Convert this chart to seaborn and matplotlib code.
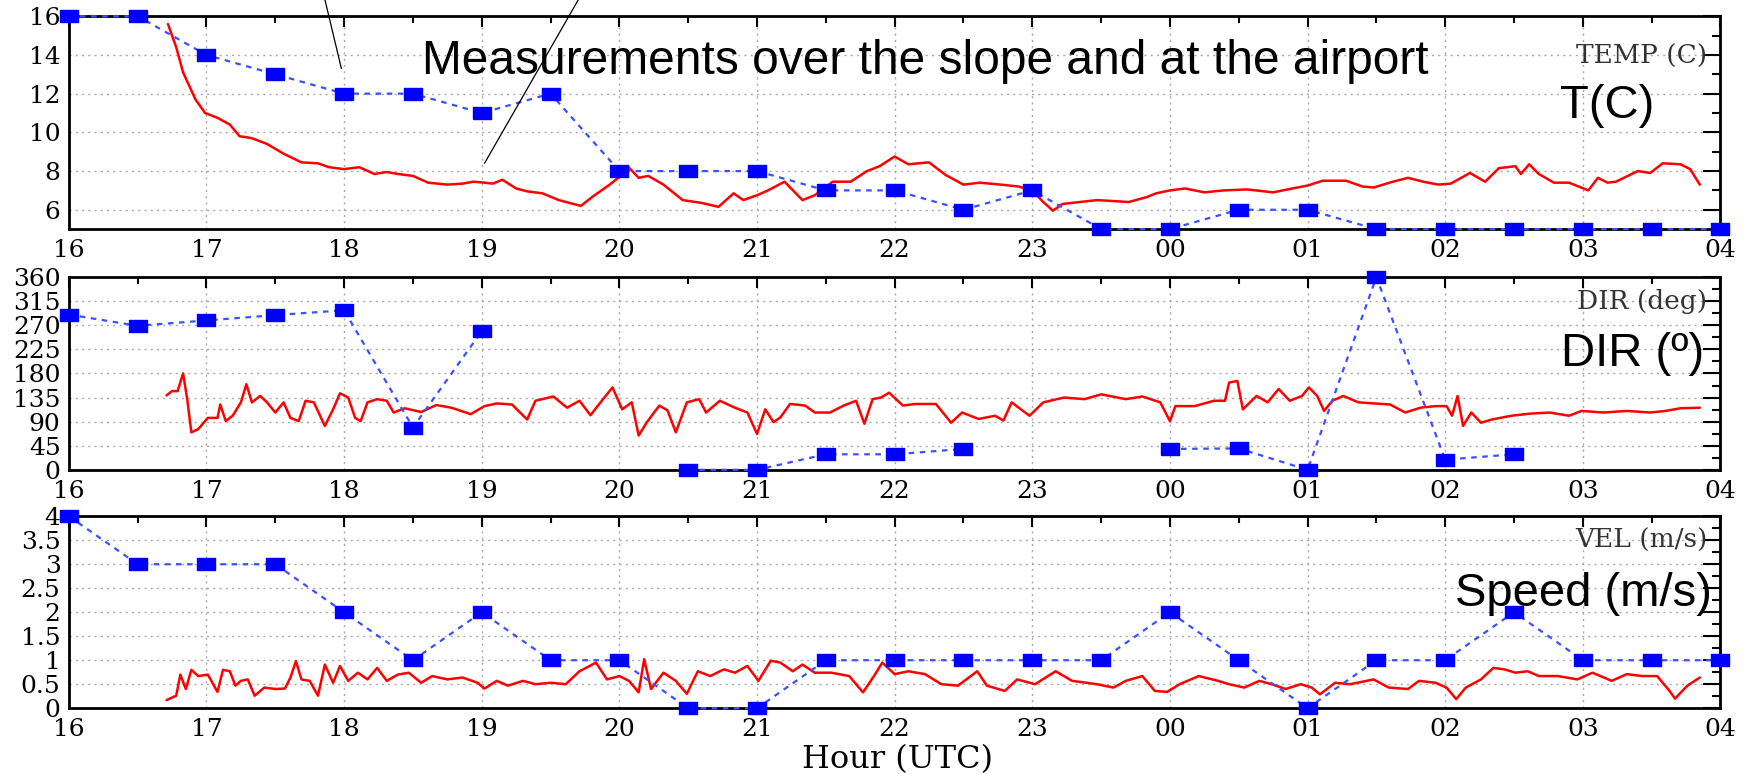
import numpy as np
import pandas as pd
import matplotlib
matplotlib.use('Agg')
import matplotlib.pyplot as plt
import seaborn as sns
from matplotlib.patches import ConnectionPatch
from matplotlib.ticker import MultipleLocator

# hours after 16 UTC run past midnight: 24 = 00, 28 = 04
hour_ticks = [16, 17, 18, 19, 20, 21, 22, 23, 24, 25, 26, 27, 28]
hour_labels = ['16', '17', '18', '19', '20', '21', '22', '23', '00', '01', '02', '03', '04']

# airport (half-hourly, blue squares)
airport_hours = [16, 16.5, 17, 17.5, 18, 18.5, 19, 19.5, 20, 20.5, 21, 21.5, 22, 22.5,
                 23, 23.5, 24, 24.5, 25, 25.5, 26, 26.5, 27, 27.5, 28]
airport_temp = [16, 16, 14, 13, 12, 12, 11, 12, 8, 8, 8, 7, 7, 6,
                7, 5, 5, 6, 6, 5, 5, 5, 5, 5, 5]
airport_dir = [290, 269, 279, 289, 298, 79, 259, np.nan, np.nan, 0, 0, 29, 29, 39,
               np.nan, np.nan, 39, 40, 0, 360, 19, 29, np.nan, np.nan, np.nan]
airport_vel = [4, 3, 3, 3, 2, 1, 2, 1, 1, 0, 0, 1, 1, 1,
               1, 1, 2, 1, 0, 1, 1, 2, 1, 1, 1]

# slope station (red lines)
slope_t_hours = [16.72, 16.78, 16.83, 16.92, 16.99, 17.08, 17.17, 17.24, 17.33, 17.44,
                 17.56, 17.69, 17.81, 17.89, 18.0, 18.11, 18.22, 18.31, 18.39, 18.5,
                 18.61, 18.75, 18.86, 18.94, 19.02, 19.08, 19.15, 19.25, 19.33, 19.44,
                 19.56, 19.64, 19.72, 19.81, 19.86, 19.93, 20.0, 20.06, 20.14, 20.21,
                 20.32, 20.46, 20.6, 20.72, 20.83, 20.9, 21.0, 21.08, 21.2, 21.33,
                 21.42, 21.55, 21.68, 21.8, 21.89, 22.0, 22.1, 22.25, 22.37, 22.5,
                 22.62, 22.77, 22.9, 23.0, 23.08, 23.15, 23.22, 23.47, 23.7, 23.83,
                 23.9, 24.0, 24.11, 24.25, 24.39, 24.56, 24.75, 24.89, 25.0, 25.11,
                 25.28, 25.4, 25.48, 25.62, 25.73, 25.84, 25.95, 26.04, 26.18, 26.29,
                 26.39, 26.51, 26.55, 26.61, 26.68, 26.79, 26.9, 27.04, 27.11, 27.18,
                 27.24, 27.4, 27.49, 27.58, 27.71, 27.78, 27.85]
slope_temp = [15.6, 14.4, 13.1, 11.7, 11.0, 10.75, 10.4, 9.8, 9.7, 9.4,
              8.9, 8.45, 8.4, 8.2, 8.1, 8.2, 7.85, 7.95, 7.85, 7.75,
              7.4, 7.3, 7.35, 7.45, 7.4, 7.35, 7.55, 7.1, 6.95, 6.85,
              6.5, 6.35, 6.2, 6.7, 6.95, 7.3, 7.7, 8.25, 7.65, 7.75,
              7.3, 6.5, 6.35, 6.15, 6.85, 6.5, 6.75, 7.0, 7.45, 6.5,
              6.75, 7.45, 7.45, 8.0, 8.25, 8.75, 8.35, 8.45, 7.8, 7.3,
              7.4, 7.3, 7.2, 7.0, 6.4, 5.95, 6.3, 6.5, 6.4, 6.65,
              6.85, 7.0, 7.1, 6.9, 7.0, 7.05, 6.9, 7.1, 7.25, 7.5,
              7.5, 7.2, 7.15, 7.45, 7.65, 7.45, 7.3, 7.35, 7.9, 7.45,
              8.15, 8.25, 7.85, 8.35, 7.85, 7.4, 7.4, 7.0, 7.65, 7.4,
              7.45, 8.0, 7.9, 8.4, 8.35, 8.1, 7.3]

slope_d_hours = [16.71, 16.75, 16.79, 16.83, 16.86, 16.89, 16.94, 17.01, 17.08, 17.1,
                 17.14, 17.19, 17.25, 17.29, 17.33, 17.39, 17.44, 17.5, 17.56, 17.61,
                 17.67, 17.72, 17.78, 17.86, 17.92, 17.97, 18.03, 18.08, 18.12, 18.17,
                 18.24, 18.31, 18.36, 18.44, 18.56, 18.67, 18.78, 18.92, 19.02, 19.11,
                 19.22, 19.33, 19.39, 19.52, 19.62, 19.71, 19.79, 19.86, 19.95, 20.02,
                 20.09, 20.14, 20.2, 20.29, 20.35, 20.41, 20.49, 20.58, 20.63, 20.73,
                 20.84, 20.93, 21.0, 21.06, 21.12, 21.17, 21.24, 21.35, 21.42, 21.53,
                 21.63, 21.72, 21.78, 21.84, 21.9, 21.96, 22.06, 22.15, 22.3, 22.41,
                 22.49, 22.61, 22.73, 22.79, 22.85, 22.98, 23.08, 23.23, 23.38, 23.5,
                 23.68, 23.8, 23.93, 24.0, 24.04, 24.18, 24.32, 24.4, 24.43, 24.49,
                 24.53, 24.63, 24.71, 24.79, 24.87, 24.96, 25.01, 25.07, 25.12, 25.18,
                 25.26, 25.37, 25.48, 25.6, 25.71, 25.82, 25.93, 26.01, 26.05, 26.09,
                 26.13, 26.19, 26.26, 26.34, 26.48, 26.62, 26.76, 26.9, 26.99, 27.15,
                 27.32, 27.49, 27.6, 27.71, 27.85]
slope_dir = [139, 147, 147, 180, 132, 70, 76, 97, 97, 122,
             91, 101, 126, 160, 126, 138, 126, 107, 126, 97,
             91, 129, 126, 82, 113, 143, 135, 97, 91, 126,
             132, 129, 107, 115, 108, 121, 116, 104, 119, 124,
             122, 94, 129, 137, 116, 129, 102, 125, 154, 113,
             126, 64, 89, 120, 111, 70, 126, 132, 107, 129,
             116, 107, 67, 113, 89, 98, 123, 120, 107, 107,
             120, 129, 86, 132, 135, 144, 120, 123, 123, 88,
             107, 95, 101, 92, 126, 101, 126, 135, 132, 141,
             132, 137, 126, 91, 119, 119, 129, 129, 163, 166,
             113, 138, 126, 151, 129, 138, 154, 138, 110, 129,
             138, 126, 124, 122, 107, 116, 119, 119, 101, 138,
             82, 107, 88, 94, 101, 105, 107, 101, 110, 107,
             110, 107, 110, 115, 116]

slope_v_hours = [16.71, 16.78, 16.81, 16.85, 16.89, 16.94, 17.01, 17.08, 17.12, 17.17,
                 17.21, 17.25, 17.3, 17.35, 17.42, 17.5, 17.57, 17.61, 17.65, 17.69,
                 17.75, 17.81, 17.86, 17.92, 17.97, 18.03, 18.1, 18.17, 18.24, 18.31,
                 18.39, 18.47, 18.56, 18.64, 18.75, 18.86, 18.97, 19.02, 19.11, 19.19,
                 19.3, 19.39, 19.5, 19.61, 19.71, 19.83, 19.91, 20.0, 20.07, 20.14,
                 20.18, 20.23, 20.32, 20.41, 20.49, 20.57, 20.66, 20.76, 20.84, 20.93,
                 21.01, 21.1, 21.17, 21.26, 21.33, 21.42, 21.54, 21.67, 21.77, 21.85,
                 21.91, 22.0, 22.1, 22.22, 22.34, 22.46, 22.6, 22.67, 22.8, 22.89,
                 23.02, 23.17, 23.29, 23.47, 23.59, 23.68, 23.8, 23.89, 23.98, 24.07,
                 24.21, 24.35, 24.43, 24.54, 24.65, 24.74, 24.84, 24.95, 25.03, 25.09,
                 25.2, 25.31, 25.48, 25.59, 25.73, 25.81, 25.93, 26.01, 26.08, 26.15,
                 26.26, 26.35, 26.43, 26.51, 26.6, 26.68, 26.82, 26.96, 27.07, 27.21,
                 27.32, 27.43, 27.54, 27.63, 27.67, 27.76, 27.85]
slope_vel = [0.17, 0.26, 0.7, 0.4, 0.8, 0.67, 0.7, 0.34, 0.8, 0.77,
             0.47, 0.57, 0.6, 0.26, 0.43, 0.4, 0.41, 0.64, 0.98, 0.6,
             0.57, 0.26, 0.91, 0.53, 0.88, 0.57, 0.74, 0.6, 0.84, 0.57,
             0.7, 0.74, 0.53, 0.67, 0.6, 0.64, 0.53, 0.41, 0.57, 0.47,
             0.57, 0.5, 0.53, 0.5, 0.77, 0.95, 0.6, 0.67, 0.57, 0.33,
             1.02, 0.4, 0.74, 0.57, 0.3, 0.77, 0.67, 0.81, 0.74, 0.88,
             0.57, 0.99, 0.95, 0.77, 0.91, 0.74, 0.74, 0.67, 0.33, 0.67,
             0.95, 0.71, 0.77, 0.71, 0.5, 0.47, 0.77, 0.47, 0.36, 0.6,
             0.5, 0.77, 0.57, 0.5, 0.43, 0.57, 0.67, 0.36, 0.34, 0.5,
             0.67, 0.57, 0.5, 0.43, 0.57, 0.5, 0.4, 0.5, 0.43, 0.29,
             0.53, 0.5, 0.6, 0.43, 0.4, 0.57, 0.53, 0.43, 0.19, 0.43,
             0.6, 0.84, 0.81, 0.74, 0.77, 0.67, 0.67, 0.6, 0.74, 0.57,
             0.71, 0.67, 0.67, 0.36, 0.2, 0.47, 0.64]

sns.set_style('white')
plt.rcParams['font.family'] = ['DejaVu Serif']
plt.rcParams['text.color'] = 'black'
plt.rcParams['xtick.color'] = 'black'
plt.rcParams['ytick.color'] = 'black'

fig = plt.figure(figsize=(17.52, 7.74), dpi=100)

rects = [[0.0393, 0.704, 0.9427, 0.275],
         [0.0393, 0.393, 0.9427, 0.249],
         [0.0393, 0.085, 0.9427, 0.248]]

# (x, y, airport, ylim, major, minor, small label, y of small, big label, x of big, y of big)
panels = [
    (slope_t_hours, slope_temp, airport_temp, (5, 16), 2, 1, 'TEMP (C)', 0.81, 'T(C)', 0.960, 0.58),
    (slope_d_hours, slope_dir, airport_dir, (0, 360), 45, 22.5, 'DIR (deg)', 0.875, 'DIR (º)', 0.990, 0.60),
    (slope_v_hours, slope_vel, airport_vel, (0, 4), 0.5, 0.25, 'VEL (m/s)', 0.875, 'Speed (m/s)', 0.995, 0.595),
]

# wide square marker like the original plot
box = [(-1.5, -1), (1.5, -1), (1.5, 1), (-1.5, 1), (-1.5, -1)]

axes = []
for rect, (sx, sy, ay, ylim, ymaj, ymin, small_lab, small_y, big_lab, big_x, big_y) in zip(rects, panels):
    ax = fig.add_axes(rect)
    axes.append(ax)
    ax.grid(True, which='major', color='#aaaaaa', linestyle=(0, (1.5, 3)), linewidth=1)
    sns.lineplot(x=sx, y=sy, ax=ax, color='red', linewidth=1.8, estimator=None, sort=False)
    ax.plot(airport_hours, ay, color='#3a50ff', linestyle=(0, (2.5, 2.5)), linewidth=1.6,
            marker=box, markersize=13, markerfacecolor='#0000ff', markeredgecolor='#0000ff',
            clip_on=False, zorder=5)
    ax.set_xlim(16, 28)
    ax.set_ylim(*ylim)
    ax.set_xticks(hour_ticks)
    ax.set_xticklabels(hour_labels)
    ax.xaxis.set_minor_locator(MultipleLocator(0.5))
    ax.yaxis.set_major_locator(MultipleLocator(ymaj))
    ax.yaxis.set_minor_locator(MultipleLocator(ymin))
    ax.tick_params(which='both', direction='in', top=True, right=True, labelsize=18, width=1.5)
    ax.tick_params(axis='x', which='major', length=8, pad=7)
    ax.tick_params(axis='x', which='minor', length=5)
    ax.tick_params(axis='y', which='major', length=12, pad=6)
    ax.tick_params(axis='y', which='minor', length=6)
    for s in ax.spines.values():
        s.set_linewidth(2)
        s.set_color('black')
    ax.set_xlabel('')
    ax.set_ylabel('')
    ax.text(0.992, small_y, small_lab, transform=ax.transAxes, ha='right', va='center',
            fontsize=19, color='#333333')
    ax.text(big_x, big_y, big_lab, transform=ax.transAxes, ha='right', va='center',
            fontsize=34, family='Liberation Sans', color='black')

# temperature panel: no label at 5
axes[0].set_yticks([6, 8, 10, 12, 14, 16])
axes[0].yaxis.set_minor_locator(MultipleLocator(1))
axes[2].yaxis.set_major_formatter(plt.FuncFormatter(lambda v, p: f'{v:g}'))

fig.text(0.528, 0.92, 'Measurements over the slope and at the airport', ha='center', va='center',
         fontsize=34.5, family='Liberation Sans')
fig.text(0.512, 0.008, 'Hour (UTC)', ha='center', va='baseline', fontsize=23)

# pointer lines from the title to the two series
for fx, pt in [(0.1855, (17.98, 13.3)), (0.330, (19.02, 8.4))]:
    con = ConnectionPatch(xyA=(fx, 1.0), coordsA='figure fraction', xyB=pt, coordsB='data',
                          axesB=axes[0], color='black', linewidth=0.9)
    fig.add_artist(con)

fig.savefig('out.png', dpi=100)
